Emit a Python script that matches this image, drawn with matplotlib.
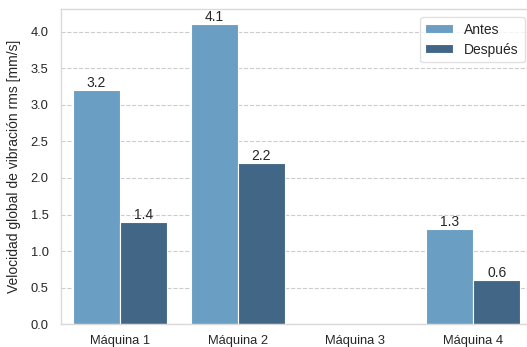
import matplotlib.pyplot as plt
import numpy as np

maquinas = ['Máquina 1', 'Máquina 2', 'Máquina 3', 'Máquina 4']
antes = [3.2, 4.1, np.nan, 1.3]
despues = [1.4, 2.2, np.nan, 0.6]

colorAntes = '#6a9ec2'
colorDespues = '#426786'
textColor = '#262626'
fontSize = 9.3

plt.rcParams['font.family'] = ['Liberation Sans', 'DejaVu Sans']

fig = plt.figure(figsize=(5.27, 3.47), dpi=100)
# axes run a bit past the right border of the figure
ax1 = fig.add_axes([0.1158, 0.0654, 0.894, 0.9077])

x = np.arange(len(maquinas))
w = 0.4
b1 = ax1.bar(x - w/2, antes, w, label='Antes', color=colorAntes, edgecolor='white', linewidth=0.8)
b2 = ax1.bar(x + w/2, despues, w, label='Después', color=colorDespues, edgecolor='white', linewidth=0.8)

ax1.bar_label(b1, labels=['' if np.isnan(v) else '%.1f' % v for v in antes], padding=0, fontsize=10, color=textColor)
ax1.bar_label(b2, labels=['' if np.isnan(v) else '%.1f' % v for v in despues], padding=0, fontsize=10, color=textColor)

ax1.set_xlim(-0.5, 3.5)
ax1.set_ylim(0, 4.305)
ax1.set_yticks(np.arange(0, 4.01, 0.5))
ax1.set_yticklabels(['%.1f' % t for t in np.arange(0, 4.01, 0.5)])
ax1.set_xticks(x)
ax1.set_xticklabels(maquinas)

ax1.yaxis.grid(True, linestyle='--', linewidth=0.8, color='#cccccc')
ax1.xaxis.grid(False)
ax1.set_axisbelow(True)

for s in ax1.spines.values():
    s.set_color('#d9d9d9')
    s.set_linewidth(1.0)

ax1.tick_params(axis='both', length=0, labelsize=fontSize, labelcolor=textColor)
ax1.tick_params(axis='y', pad=9)
ax1.tick_params(axis='x', pad=8)

ax1.set_ylabel('Velocidad global de vibración rms [mm/s]', fontsize=10, color=textColor, labelpad=7)

leg = ax1.legend(loc='upper right', fontsize=10, frameon=True, borderaxespad=0.55,
                 handlelength=2.0, handleheight=0.6, labelspacing=0.45)
leg.get_frame().set_edgecolor('#d9d9d9')
for t in leg.get_texts():
    t.set_color(textColor)

plt.savefig('out.png', dpi=100)
